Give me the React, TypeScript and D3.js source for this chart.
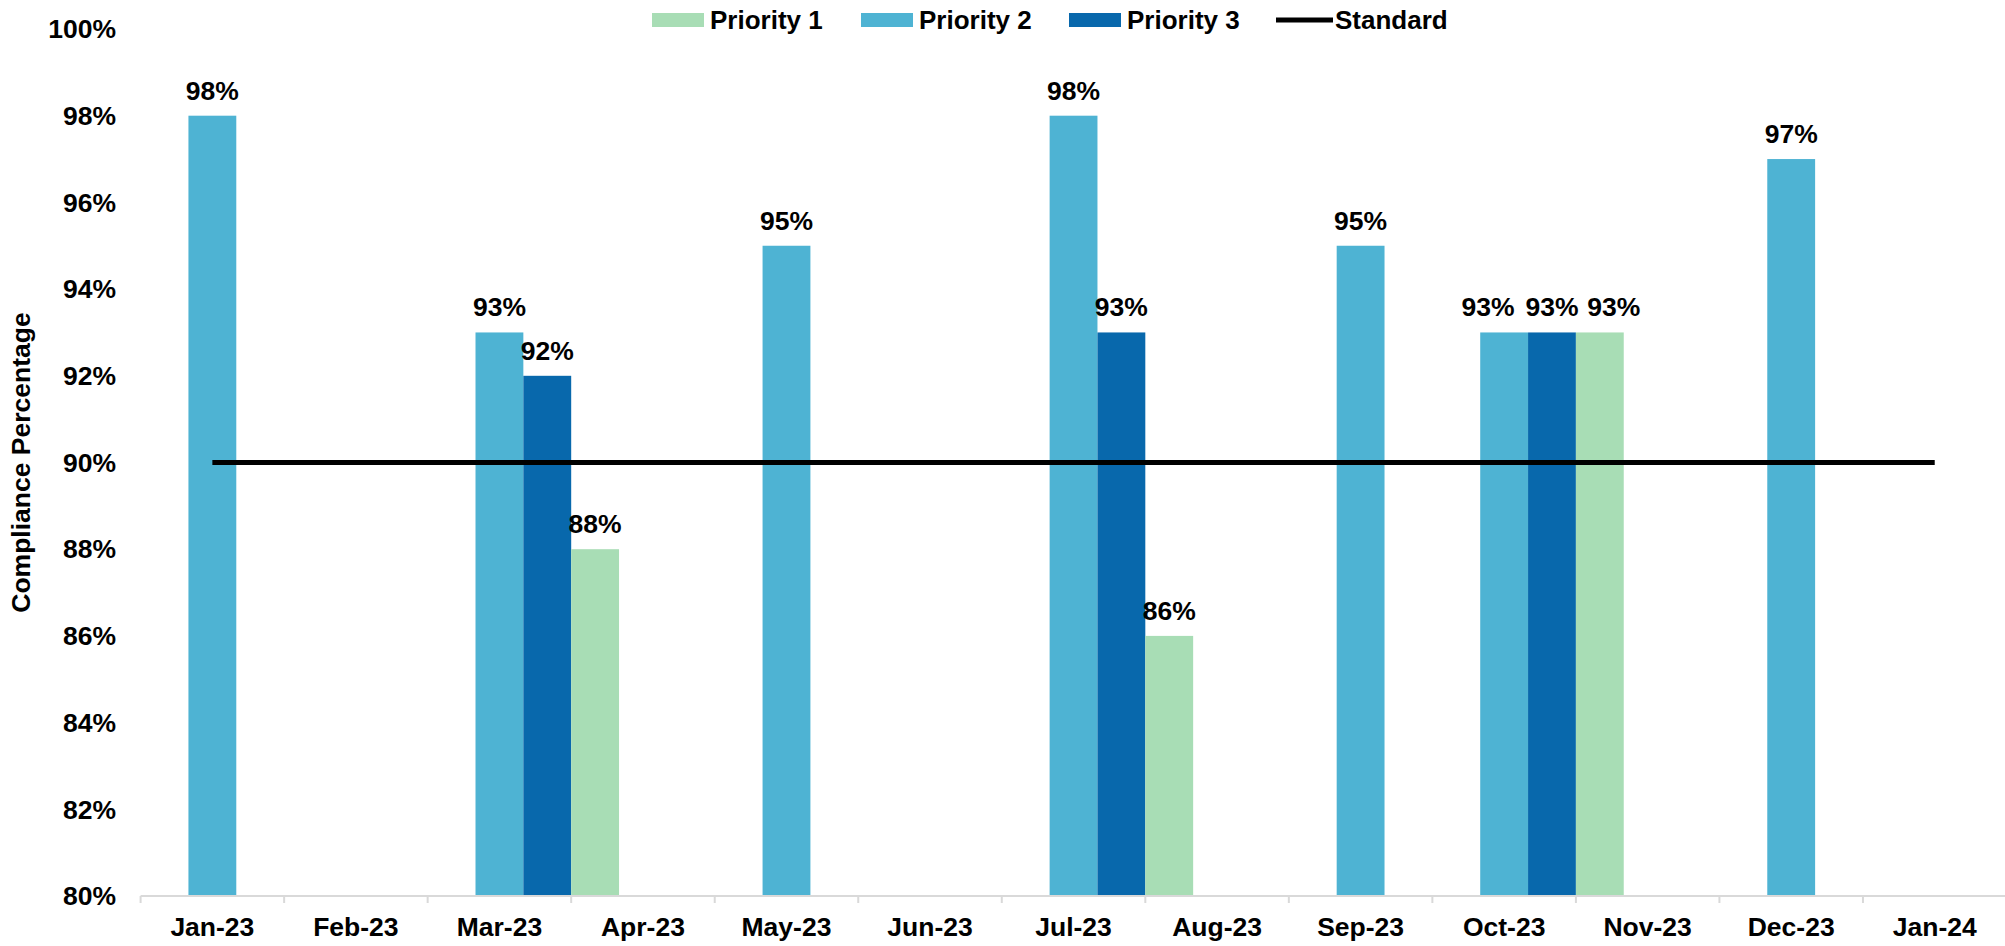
import React from 'react';
import * as d3 from 'd3';

// months on the x axis
const months = [
  'Jan-23', 'Feb-23', 'Mar-23', 'Apr-23', 'May-23', 'Jun-23', 'Jul-23',
  'Aug-23', 'Sep-23', 'Oct-23', 'Nov-23', 'Dec-23', 'Jan-24',
];

// compliance values by month (null = no bar)
const priority1 = [null, null, 88, null, null, null, 86, null, null, 93, null, null, null];
const priority2 = [98, null, 93, null, 95, null, 98, null, 95, 93, null, 97, null];
const priority3 = [null, null, 92, null, null, null, 93, null, null, 93, null, null, null];
const standard = [90, 90, 90, 90, 90, 90, 90, 90, 90, 90, 90, 90, 90];

const yTicks = [80, 82, 84, 86, 88, 90, 92, 94, 96, 98, 100];

const series = [
  { name: 'Priority 2', values: priority2, color: '#4EB3D3', slot: 0 },
  { name: 'Priority 3', values: priority3, color: '#0868AC', slot: 1 },
  { name: 'Priority 1', values: priority1, color: '#A8DDB5', slot: 2 },
];

const legendItems = [
  { name: 'Priority 1', color: '#A8DDB5', x: 652 },
  { name: 'Priority 2', color: '#4EB3D3', x: 861 },
  { name: 'Priority 3', color: '#0868AC', x: 1069 },
];

const W = 2005;
const H = 946;
const font = '"Liberation Sans", Arial, sans-serif';

const App = () => {
  const x = d3.scaleBand<string>()
    .domain(months)
    .range([140.6, 140.6 + 13 * 143.53])
    .padding(0);

  const y = d3.scaleLinear().domain([80, 100]).range([896, 29]);

  const bw = x.bandwidth() / 3;
  const center = (m: string) => (x(m) as number) + x.bandwidth() / 2;

  const line = d3.line<number>()
    .x((_, i) => center(months[i]))
    .y((d) => y(d));

  // when all three bars in a month carry labels, spread them apart so they don't collide
  const labelNudge = (i: number, slot: number) => {
    const full = priority1[i] != null && priority2[i] != null && priority3[i] != null
      && priority1[i] === priority2[i] && priority2[i] === priority3[i];
    if (!full) return 0;
    return slot === 0 ? -16 : slot === 2 ? 14 : 0;
  };

  return (
    <svg
      width={W}
      height={H}
      style={{ position: 'absolute', left: 0, top: 0, background: '#fff' }}
      fontFamily={font}
      fontWeight="bold"
    >
      {/* y tick labels */}
      {yTicks.map((t) => (
        <text key={t} x={116} y={y(t)} dy="0.35em" textAnchor="end" fontSize={26.5}>
          {t}%
        </text>
      ))}

      {/* y axis title */}
      <text
        transform={`translate(30, ${y(90)}) rotate(-90)`}
        textAnchor="middle"
        fontSize={26.5}
      >
        Compliance Percentage
      </text>

      {/* bars */}
      {series.map((s) =>
        s.values.map((v, i) => {
          if (v == null) return null;
          const cx = center(months[i]) + s.slot * bw;
          return (
            <g key={s.name + i}>
              <rect
                x={cx - bw / 2}
                y={y(v)}
                width={bw}
                height={y(80) - y(v)}
                fill={s.color}
              />
              <text
                x={cx + labelNudge(i, s.slot)}
                y={y(v) - 16}
                textAnchor="middle"
                fontSize={26.5}
              >
                {v}%
              </text>
            </g>
          );
        })
      )}

      {/* x axis */}
      <line x1={140.6} x2={W} y1={896} y2={896} stroke="#D9D9D9" strokeWidth={2} />
      {months.map((m) => (
        <line
          key={'t' + m}
          x1={x(m) as number}
          x2={x(m) as number}
          y1={896}
          y2={903}
          stroke="#D9D9D9"
          strokeWidth={2}
        />
      ))}
      {months.map((m) => (
        <text key={'l' + m} x={center(m)} y={936} textAnchor="middle" fontSize={26.5}>
          {m}
        </text>
      ))}

      {/* standard line */}
      <path d={line(standard) || ''} fill="none" stroke="#000" strokeWidth={5} />

      {/* legend */}
      {legendItems.map((l) => (
        <g key={l.name}>
          <rect x={l.x} y={13} width={52} height={14} fill={l.color} />
          <text x={l.x + 58} y={20} dy="0.35em" fontSize={26}>
            {l.name}
          </text>
        </g>
      ))}
      <line x1={1276} x2={1333} y1={20} y2={20} stroke="#000" strokeWidth={5} />
      <text x={1335} y={20} dy="0.35em" fontSize={26}>
        Standard
      </text>
    </svg>
  );
};

export default App;
